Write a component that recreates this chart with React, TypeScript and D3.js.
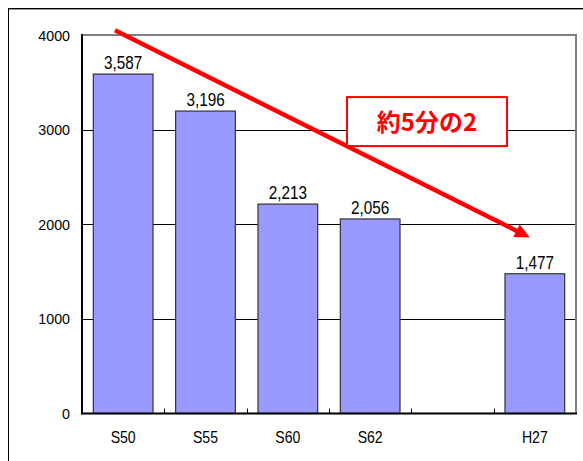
import React from "react";
import * as d3 from "d3";

const categories = ["S50", "S55", "S60", "S62", "", "H27"];
const values: (number | null)[] = [3587, 3196, 2213, 2056, null, 1477];
const valueLabels = ["3,587", "3,196", "2,213", "2,056", "", "1,477"];
const yTicks = [0, 1000, 2000, 3000, 4000];
// annotation arrow in data coordinates: [category position, value]
const arrowFrom = [0.4, 4050];
const arrowTo = [5.44, 1860];
const noteText = "約5分の2";
const notePos = [4.19, 3085];

const W = 583;
const H = 461;
const M = { left: 82, right: 576, top: 35, bottom: 413.5 };

const font = "'Liberation Sans', Arial, sans-serif";

function NarrowText(props: {
  x: number;
  y: number;
  size: number;
  sx: number;
  anchor: "start" | "middle" | "end";
  children: React.ReactNode;
}) {
  return (
    <text
      transform={`translate(${props.x},${props.y}) scale(${props.sx},1)`}
      textAnchor={props.anchor}
      fontFamily={font}
      fontSize={props.size}
      fill="#000"
    >
      {props.children}
    </text>
  );
}

export default function App() {
  const x = d3
    .scaleBand<string>()
    .domain(categories.map((c, i) => String(i)))
    .range([M.left, M.right])
    .padding(0);
  const xc = d3.scaleLinear().domain([0, categories.length]).range([M.left, M.right]);
  const y = d3.scaleLinear().domain([0, 4000]).range([M.bottom, M.top]);
  const bw = x.bandwidth() * 0.725;

  const x1 = xc(arrowFrom[0]);
  const y1 = y(arrowFrom[1]);
  const x2 = xc(arrowTo[0]);
  const y2 = y(arrowTo[1]);
  const ang = Math.atan2(y2 - y1, x2 - x1);
  const headLen = 15;
  const headHalf = 7;
  const bx = x2 - headLen * Math.cos(ang);
  const by = y2 - headLen * Math.sin(ang);
  const px = -Math.sin(ang);
  const py = Math.cos(ang);
  const head = [
    [x2, y2],
    [bx + px * headHalf, by + py * headHalf],
    [bx - px * headHalf, by - py * headHalf],
  ];

  const nx = xc(notePos[0]);
  const ny = y(notePos[1]);
  const boxW = 160;
  const boxH = 49;

  return (
    <svg
      width={W}
      height={H}
      style={{ position: "absolute", left: 0, top: 0, background: "#fff" }}
    >
      <rect x={0} y={0} width={W} height={H} fill="#fff" />
      {/* outer frame */}
      <line x1={8.5} y1={8} x2={8.5} y2={H} stroke="#000" strokeWidth={1} />
      <line x1={8} y1={8.5} x2={W} y2={8.5} stroke="#000" strokeWidth={1} />
      <line x1={9} y1={9.5} x2={W} y2={9.5} stroke="#999" strokeWidth={1} />

      {/* gridlines */}
      {yTicks
        .filter((t) => t > 0 && t < 4000)
        .map((t) => (
          <line
            key={"g" + t}
            x1={M.left}
            x2={M.right}
            y1={Math.round(y(t)) + 0.5}
            y2={Math.round(y(t)) + 0.5}
            stroke="#000"
            strokeWidth={1}
          />
        ))}
      {/* plot top & right border */}
      <line x1={M.left} x2={M.right + 1} y1={y(4000)} y2={y(4000)} stroke="#808080" strokeWidth={2} />
      <line x1={M.right} x2={M.right} y1={y(4000)} y2={M.bottom} stroke="#808080" strokeWidth={2} />

      {/* bars */}
      {categories.map((c, i) => {
        const v = values[i];
        if (v == null) return null;
        const cx = (x(String(i)) as number) + x.bandwidth() / 2;
        return (
          <g key={"b" + i}>
            <rect
              x={cx - bw / 2}
              y={y(v)}
              width={bw}
              height={M.bottom - y(v)}
              fill="#9999FF"
              stroke="#333"
              strokeWidth={1.2}
            />
            <NarrowText x={cx} y={y(v) - 5} size={18} sx={0.85} anchor="middle">
              {valueLabels[i]}
            </NarrowText>
          </g>
        );
      })}

      {/* x ticks (inside) */}
      {categories.slice(1).map((c, i) => {
        const tx = Math.round(x(String(i + 1)) as number) + 0.5;
        return (
          <line key={"t" + i} x1={tx} x2={tx} y1={M.bottom} y2={M.bottom - 5} stroke="#000" strokeWidth={1} />
        );
      })}

      {/* axes */}
      <line x1={M.left} x2={M.left} y1={y(4000) - 1} y2={M.bottom + 1} stroke="#000" strokeWidth={2} />
      <line x1={M.left - 1} x2={M.right + 1} y1={M.bottom} y2={M.bottom} stroke="#000" strokeWidth={2} />

      {/* y labels */}
      {yTicks.map((t) => (
        <NarrowText key={"y" + t} x={70} y={y(t) + 5.5} size={15.5} sx={0.92} anchor="end">
          {t}
        </NarrowText>
      ))}

      {/* x labels */}
      {categories.map((c, i) => (
        <NarrowText
          key={"x" + i}
          x={(x(String(i)) as number) + x.bandwidth() / 2}
          y={443}
          size={16}
          sx={0.88}
          anchor="middle"
        >
          {c}
        </NarrowText>
      ))}

      {/* arrow */}
      <line x1={x1} y1={y1} x2={bx + 2 * Math.cos(ang)} y2={by + 2 * Math.sin(ang)} stroke="#FF0000" strokeWidth={4.5} />
      <polygon points={head.map((p) => p.join(",")).join(" ")} fill="#FF0000" />

      {/* note box */}
      <rect
        x={nx - boxW / 2}
        y={ny - boxH / 2}
        width={boxW}
        height={boxH}
        fill="#fff"
        stroke="#FF0000"
        strokeWidth={2}
      />
      <text
        x={nx}
        y={ny + 9}
        textAnchor="middle"
        fontFamily="'Noto Sans CJK JP', sans-serif"
        fontWeight="bold"
        fontSize={24}
        fill="#FF0000"
      >
        {noteText}
      </text>
    </svg>
  );
}
